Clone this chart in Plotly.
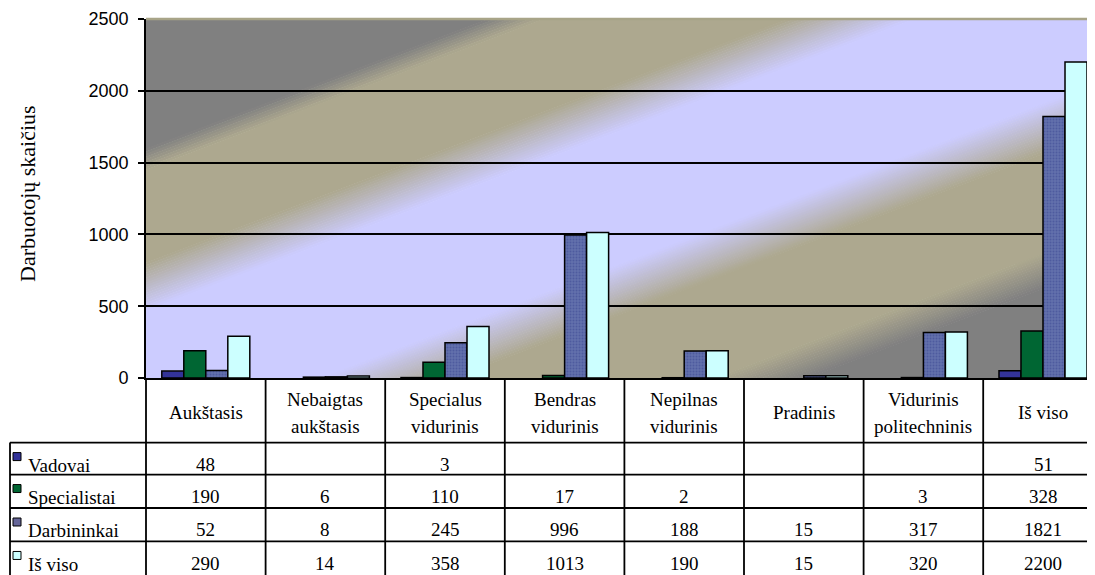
import plotly.graph_objects as go

# ---------------- data ----------------
categories = ["Aukštasis", "Nebaigtas<br>aukštasis", "Specialus<br>vidurinis", "Bendras<br>vidurinis",
              "Nepilnas<br>vidurinis", "Pradinis", "Vidurinis<br>politechninis", "Iš viso"]
series_names = ["Vadovai", "Specialistai", "Darbininkai", "Iš viso"]
vadovai = [48, None, 3, None, None, None, None, 51]
specialistai = [190, 6, 110, 17, 2, None, 3, 328]
darbininkai = [52, 8, 245, 996, 188, 15, 317, 1821]
is_viso = [290, 14, 358, 1013, 190, 15, 320, 2200]
y_ticks = [0, 500, 1000, 1500, 2000, 2500]
y_title = "Darbuotojų skaičius"

series_values = [vadovai, specialistai, darbininkai, is_viso]
series_colors = ["#333399", "#006633", "#6270ac", "#ccffff"]

# ---------------- geometry (reference screen px) ----------------
OFF = 8                      # default page body margin
W, H = 1095 - OFF, 575 - OFF
PL, PR = 146.0, 1095.0      # plot left / right (screen px)
PT, PB = 18.8, 378.3        # plot top / bottom (screen px)
CAT_W = 119.6               # px per category
X0 = -0.5
X1 = X0 + (PR - PL) / CAT_W
YMAX = 2500

def xp(px):  # screen px -> paper x
    return (px - PL) / (PR - PL)

def yp(py):  # screen px -> paper y
    return (PB - py) / (PB - PT)

def px2x(px):  # screen px -> data x
    return X0 + (px - PL) / CAT_W

def py2y(py):  # screen px -> data y
    return (PB - py) / (PB - PT) * YMAX

SERIF = "Liberation Serif, Times New Roman, serif"
SANS = "Liberation Sans, Arial, sans-serif"
TFONT = 19

fig = go.Figure()
for name, vals, col in zip(series_names, series_values, series_colors):
    kw = {}
    if name == "Darbininkai":
        kw = dict(pattern=dict(shape=".", fgcolor="#3a4590", bgcolor="#6270ac",
                               size=3, solidity=0.35))
    fig.add_trace(go.Bar(
        x=list(range(len(categories))), y=vals, name=name,
        marker=dict(color=col, line=dict(color="black", width=1.5), **kw),
        showlegend=False, hoverinfo="skip",
    ))

shapes = []

# ---------- diagonal gradient background ----------
K = 0.38
GRAY = (128, 128, 128)
TAN = (173, 168, 143)
LAV = (204, 204, 255)
stops = [(-2000, GRAY), (204, GRAY), (225, TAN), (318, TAN), (366, LAV),
         (500, LAV), (550, TAN), (650, TAN), (685, GRAY), (3000, GRAY)]

def band(sa, sb, col):
    xa, xb = PL - 20, PR + 20
    pts = [(xa, sa - K * xa), (xb, sa - K * xb), (xb, sb - K * xb), (xa, sb - K * xa)]
    path = "M " + " L ".join(f"{px2x(x):.5f},{py2y(y):.3f}" for x, y in pts) + " Z"
    shapes.append(dict(type="path", path=path, xref="x", yref="y", layer="below",
                       fillcolor="rgb(%d,%d,%d)" % col, line=dict(width=0)))

for (sa, ca), (sb, cb) in zip(stops[:-1], stops[1:]):
    if ca == cb:
        band(sa, sb + 0.6, ca)
    else:
        n = max(1, int((sb - sa) / 2.5))
        for i in range(n):
            a = sa + (sb - sa) * i / n
            b = sa + (sb - sa) * (i + 1) / n
            t = (i + 0.5) / n
            c = tuple(round(ca[j] + (cb[j] - ca[j]) * t) for j in range(3))
            band(a, b + 0.6, c)

# top border of plot area
shapes.append(dict(type="line", xref="paper", yref="paper", x0=0, x1=1, y0=1, y1=1,
                   line=dict(color="#a8a488", width=2.5), layer="above"))

# ---------- data table ----------
ROW_TOP = [443.0, 475.0, 508.5, 542.0]
TABLE_BOTTOM = 580.0
LEFT_X = 10.0
LINE = dict(color="black", width=1.8)
for i in range(len(categories) + 1):
    px = PL + i * CAT_W
    if px > 1100:
        continue
    shapes.append(dict(type="line", xref="paper", yref="paper", x0=xp(px), x1=xp(px),
                       y0=yp(PB), y1=yp(TABLE_BOTTOM), line=LINE))
shapes.append(dict(type="line", xref="paper", yref="paper", x0=xp(LEFT_X), x1=xp(LEFT_X),
                   y0=yp(ROW_TOP[0]), y1=yp(TABLE_BOTTOM), line=LINE))
for rt in ROW_TOP:
    shapes.append(dict(type="line", xref="paper", yref="paper", x0=xp(LEFT_X), x1=1.01,
                       y0=yp(rt), y1=yp(rt), line=LINE))

annotations = []
for i, cat in enumerate(categories):
    lines = cat.split("<br>")
    ys = [413] if len(lines) == 1 else [400, 427]
    for ln, yy in zip(lines, ys):
        annotations.append(dict(x=i, y=yp(yy), xref="x", yref="paper", text=ln,
                                showarrow=False, xanchor="center", yanchor="middle",
                                font=dict(family=SERIF, size=TFONT, color="black")))

for r, (name, vals, col) in enumerate(zip(series_names, series_values, series_colors)):
    rt = ROW_TOP[r]
    key_col = "#666699" if name == "Darbininkai" else col
    shapes.append(dict(type="rect", xref="paper", yref="paper",
                       x0=xp(13), x1=xp(21), y0=yp(rt + 10), y1=yp(rt + 18),
                       fillcolor=key_col, line=dict(color="black", width=1)))
    annotations.append(dict(x=xp(26), y=yp(rt + 23), xref="paper", yref="paper", text=name,
                            showarrow=False, xanchor="left", yanchor="middle",
                            font=dict(family=SERIF, size=TFONT, color="black")))
    for i, v in enumerate(vals):
        if v is None:
            continue
        annotations.append(dict(x=i, y=yp(rt + 22), xref="x", yref="paper", text=str(v),
                                showarrow=False, xanchor="center", yanchor="middle",
                                font=dict(family=SERIF, size=TFONT, color="black")))

annotations.append(dict(x=xp(28), y=yp(194), xref="paper", yref="paper", text=y_title,
                        textangle=-90, showarrow=False, xanchor="center", yanchor="middle",
                        font=dict(family=SERIF, size=22, color="black")))

fig.update_layout(
    width=W, height=H,
    margin=dict(l=PL - OFF, r=W - (PR - OFF), t=PT - OFF, b=H - (PB - OFF), pad=0),
    paper_bgcolor="white", plot_bgcolor="rgba(0,0,0,0)",
    barmode="group", bargap=0.264, bargroupgap=0,
    shapes=shapes, annotations=annotations,
    xaxis=dict(range=[X0, X1], showticklabels=False, ticks="", showgrid=False,
               zeroline=False, showline=True, linecolor="black", linewidth=1.8),
    yaxis=dict(range=[0, YMAX], tickvals=y_ticks, ticktext=[str(t) for t in y_ticks],
               showgrid=True, gridcolor="black", gridwidth=1.6, zeroline=False,
               showline=True, linecolor="black", linewidth=1.8,
               ticks="outside", ticklen=6, tickcolor="black", tickwidth=1.5,
               ticklabelstandoff=6,
               tickfont=dict(family=SANS, size=18, color="black")),
)

fig.write_html("out.html")
